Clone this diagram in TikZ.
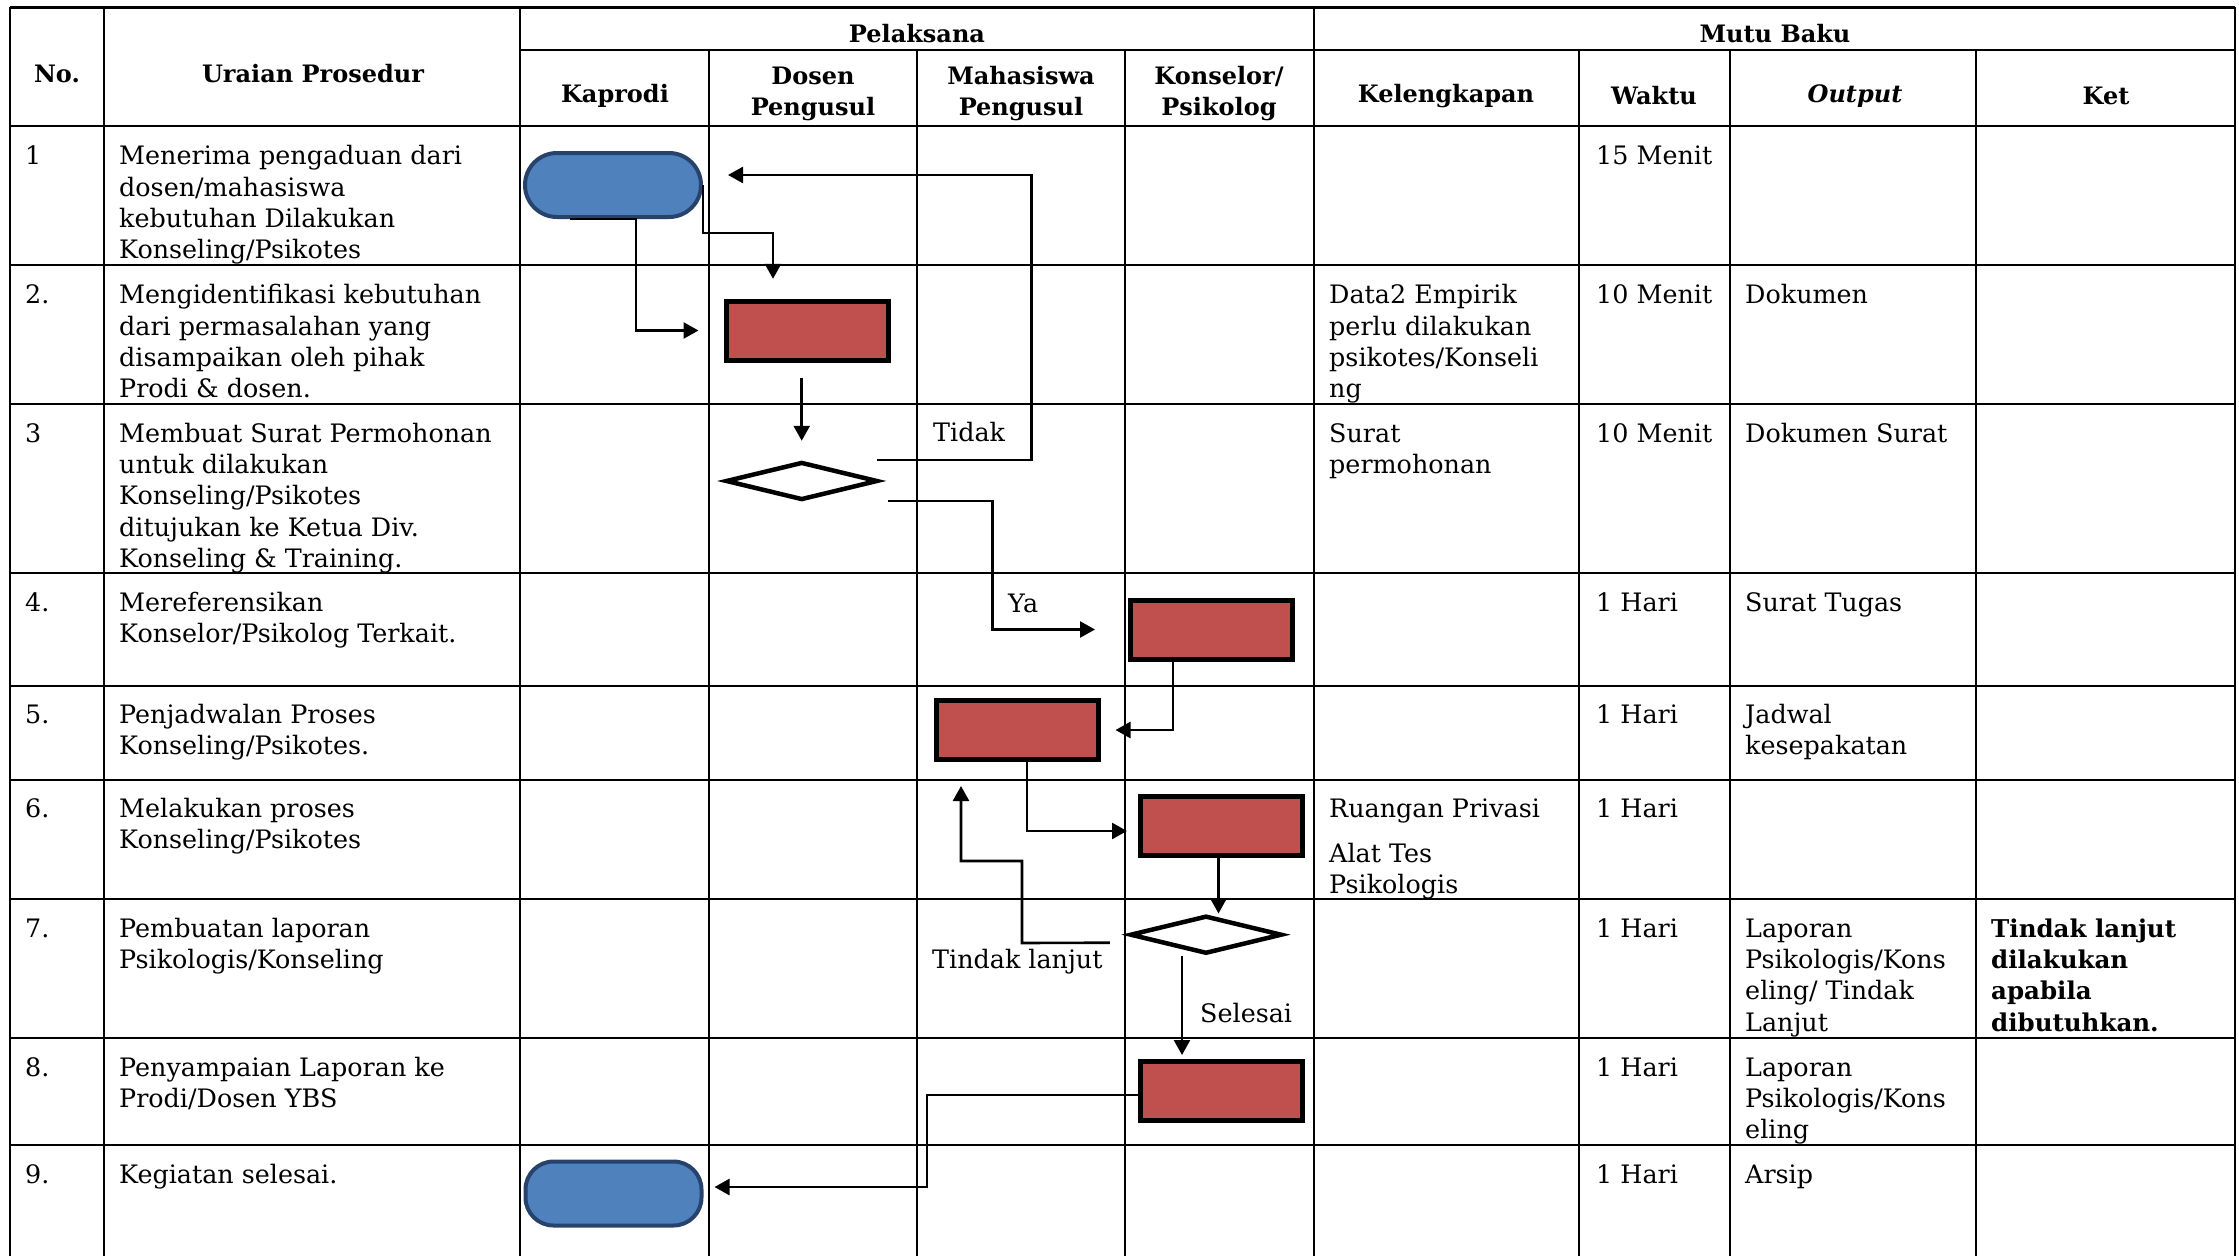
\documentclass[tikz,border=0pt]{standalone}
\usepackage{fontspec}
\setmainfont{DejaVu Serif}
\usetikzlibrary{arrows.meta,shapes.geometric}
\definecolor{termfill}{HTML}{4F81BD}
\definecolor{termdraw}{HTML}{27436B}
\definecolor{procfill}{HTML}{C0504D}
\tikzset{
  grid/.style={line width=2.6pt},
  hdr/.style={font=\fontsize{24}{31}\selectfont\bfseries, align=center, inner sep=0pt},
  cell/.style={anchor=north west, inner sep=0pt, align=left, font=\fontsize{25.4}{31.4}\selectfont},
  lbl/.style={anchor=base west, inner sep=0pt, font=\fontsize{25.4}{31.4}\selectfont},
  term/.style={draw=termdraw, fill=termfill, line width=4pt, rounded corners=32pt, minimum width=176pt, minimum height=64pt, inner sep=0pt},
  proc/.style={draw=black, fill=procfill, line width=5pt, minimum width=162pt, minimum height=59pt, inner sep=0pt},
  dec/.style={draw=black, fill=white, line width=4.5pt, diamond, aspect=4, minimum width=152pt, minimum height=38pt, inner sep=0pt},
  conn/.style={line width=2.6pt},
  arr/.style={conn, -{Triangle[length=15pt,width=16pt]}},
}
\begin{document}
\begin{tikzpicture}[x=1pt,y=-1pt]
\useasboundingbox (0,0) rectangle (2239,1256);
\clip (0,0) rectangle (2239,1256);
\fill[white] (0,0) rectangle (2239,1256);
% ---- table grid ----
\draw[grid] (10,7.3) -- (2235,7.3);
\draw[grid] (520,50) -- (2235,50);
\foreach \yy in {126,265,404,573,686,780,899,1038,1145}
  \draw[grid] (10,\yy) -- (2235,\yy);
\foreach \xx in {10,104,520,1314,2235}
  \draw[grid] (\xx,7.3) -- (\xx,1300);
\foreach \xx in {709,917,1125,1579,1730,1976}
  \draw[grid] (\xx,50) -- (\xx,1300);
% ---- header ----
\node[hdr] (hNo) at (57,74) {No.};
\node[hdr] (hUr) at (313,74) {Uraian Prosedur};
\node[hdr] (hPel) at (917,34) {Pelaksana};
\node[hdr] (hMutu) at (1775,34) {Mutu Baku};
\node[hdr] (hKap) at (615,96) {Kaprodi};
\node[hdr] (hDos) at (813,94) {Dosen\\Pengusul};
\node[hdr] (hMhs) at (1021,94) {Mahasiswa\\Pengusul};
\node[hdr] (hKon) at (1219,94) {Konselor/\\Psikolog};
\node[hdr] (hKel) at (1446,96) {Kelengkapan};
\node[hdr] (hWak) at (1654,96) {Waktu};
\node[hdr] (hOut) at (1855,96) {\itshape Output};
\node[hdr] (hKet) at (2106,96) {Ket};
% ---- row texts ----
% row 1
\node[cell] (n1) at (25,142.5) {\strut 1};
\node[cell] (u1) at (119,142.5) {\strut Menerima pengaduan dari\\dosen/mahasiswa\\kebutuhan Dilakukan\\Konseling/Psikotes};
\node[cell] (w1) at (1596,142.5) {\strut 15 Menit};
% row 2
\node[cell] (n2) at (25,281.5) {\strut 2.};
\node[cell] (u2) at (119,281.5) {\strut Mengidentifikasi kebutuhan\\dari permasalahan yang\\disampaikan oleh pihak\\Prodi \& dosen.};
\node[cell] (k2) at (1329,281.5) {\strut Data2 Empirik\\perlu dilakukan\\psikotes/Konseli\\ng};
\node[cell] (w2) at (1596,281.5) {\strut 10 Menit};
\node[cell] (o2) at (1745,281.5) {\strut Dokumen};
% row 3
\node[cell] (n3) at (25,420) {\strut 3};
\node[cell] (u3) at (119,420) {\strut Membuat Surat Permohonan\\untuk dilakukan\\Konseling/Psikotes\\ditujukan ke Ketua Div.\\Konseling \& Training.};
\node[cell] (k3) at (1329,420) {\strut Surat\\permohonan};
\node[cell] (w3) at (1596,420) {\strut 10 Menit};
\node[cell] (o3) at (1745,420) {\strut Dokumen Surat};
% row 4
\node[cell] (n4) at (25,589) {\strut 4.};
\node[cell] (u4) at (119,589) {\strut Mereferensikan\\Konselor/Psikolog Terkait.};
\node[cell] (w4) at (1596,589) {\strut 1 Hari};
\node[cell] (o4) at (1745,589) {\strut Surat Tugas};
% row 5
\node[cell] (n5) at (25,701) {\strut 5.};
\node[cell] (u5) at (119,701) {\strut Penjadwalan Proses\\Konseling/Psikotes.};
\node[cell] (w5) at (1596,701) {\strut 1 Hari};
\node[cell] (o5) at (1745,701) {\strut Jadwal\\kesepakatan};
% row 6
\node[cell] (n6) at (25,795) {\strut 6.};
\node[cell] (u6) at (119,795) {\strut Melakukan proses\\Konseling/Psikotes};
\node[cell] (k6) at (1329,795) {\strut Ruangan Privasi\\[14pt]Alat Tes\\Psikologis};
\node[cell] (w6) at (1596,795) {\strut 1 Hari};
% row 7
\node[cell] (n7) at (25,915) {\strut 7.};
\node[cell] (u7) at (119,915) {\strut Pembuatan laporan\\Psikologis/Konseling};
\node[cell] (w7) at (1596,915) {\strut 1 Hari};
\node[cell] (o7) at (1745,915) {\strut Laporan\\Psikologis/Kons\\eling/ Tindak\\Lanjut};
\node[cell,font=\fontsize{24.5}{31.4}\selectfont\bfseries] (t7) at (1991,915) {\strut Tindak lanjut\\dilakukan\\apabila\\dibutuhkan.};
% row 8
\node[cell] (n8) at (25,1054) {\strut 8.};
\node[cell] (u8) at (119,1054) {\strut Penyampaian Laporan ke\\Prodi/Dosen YBS};
\node[cell] (w8) at (1596,1054) {\strut 1 Hari};
\node[cell] (o8) at (1745,1054) {\strut Laporan\\Psikologis/Kons\\eling};
% row 9
\node[cell] (n9) at (25,1161) {\strut 9.};
\node[cell] (u9) at (119,1161) {\strut Kegiatan selesai.};
\node[cell] (w9) at (1596,1161) {\strut 1 Hari};
\node[cell] (o9) at (1745,1161) {\strut Arsip};
% ---- flow shapes ----
\node[term] (t1) at (613,185) {};
\node[proc] (b2) at (807,330.5) {};
\node[dec]  (d3) at (801.7,481) {};
\node[proc] (b4) at (1211.5,629.5) {};
\node[proc] (b5) at (1017,730) {};
\node[proc] (b6) at (1221.5,826) {};
\node[dec]  (d7) at (1206,934.7) {};
\node[proc] (b8) at (1221.5,1090.5) {};
\node[term, rounded corners=28pt] (t9) at (613.5,1193.5) {};
% ---- connectors ----
\draw[arr, shorten >=22pt] (t1.east) |- (773,233) -- (773,300.8);
\draw[arr, shorten >=25pt] ([xshift=-43pt]t1.south) -- ([xshift=23pt]t1.south) |- (b2.west);
\draw[arr, shorten <=15pt, shorten >=19pt] (d3.north |- b2.south) -- (d3.north);
\draw[arr, shorten >=25pt] ([xshift=75.5pt,yshift=21pt]d3.center) -- ++(154,0) |- ([yshift=10pt]t1.east);
\draw[arr, shorten >=33pt] ([xshift=86.5pt,yshift=-20pt]d3.center) -- ++(104,0) |- (b4.west);
\draw[arr, shorten >=15pt] ([xshift=-38.5pt]b4.south) |- (b5.east);
\draw[arr, shorten >=11pt] ([xshift=10pt]b5.south) |- ([yshift=-5pt]b6.west);
\draw[arr] ([xshift=-3pt]b6.south) -- ([xshift=-3pt]b6.south |- d7.north);
\draw[arr, shorten >=24pt] ([shift={(-18pt,-8pt)}]d7.west) -- (1022,943) |- (961,861) -- ([xshift=-56pt]b5.south);
\draw[arr, shorten >=3.5pt] ([xshift=-24pt]d7.south) -- ([xshift=-24pt]d7.south |- b8.north);
\draw[arr, shorten >=11pt] ([yshift=-4.5pt]b8.west) -- (927,1095) -- (927,1187) -- ([yshift=6.5pt]t9.east);
% ---- connector labels ----
\node[lbl] (lTidak) at (933,441) {Tidak};
\node[lbl] (lYa) at (1008,612) {Ya};
\node[lbl] (lTL) at (932,968) {Tindak lanjut};
\node[lbl] (lSel) at (1200,1022) {Selesai};
\end{tikzpicture}
\end{document}
